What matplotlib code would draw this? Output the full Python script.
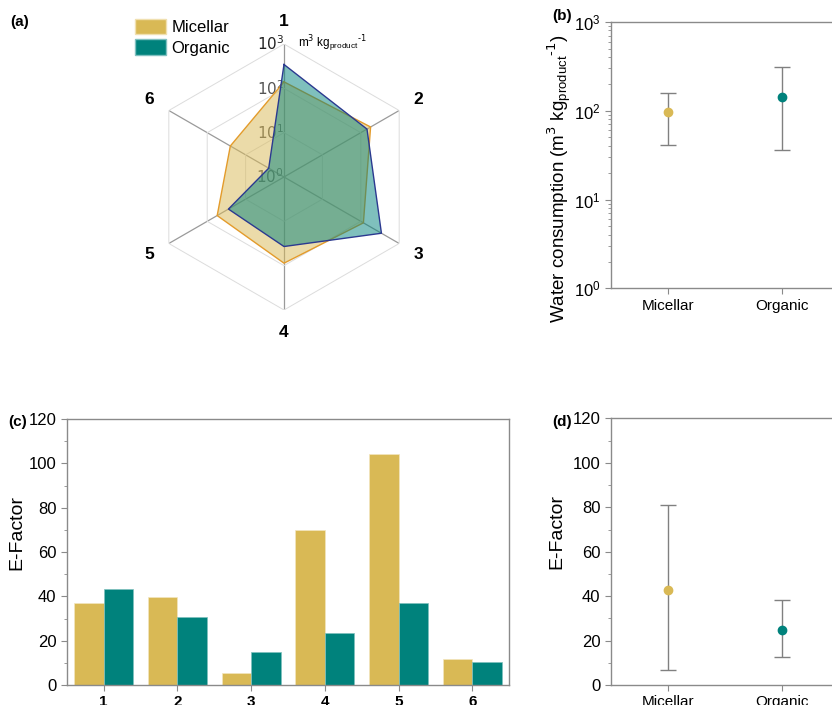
import numpy as np
import matplotlib
matplotlib.use("Agg")
import matplotlib.pyplot as plt
from matplotlib.patches import Patch
from matplotlib.ticker import MultipleLocator, LogLocator, NullFormatter

plt.rcParams['font.family'] = ['Liberation Sans', 'DejaVu Sans']

# data
axes_lbl = ["1", "2", "3", "4", "5", "6"]
water_mic = [140, 180, 117, 88, 55, 25]
water_org = [345, 145, 345, 37, 28, 2.5]

groups = ["Micellar", "Organic"]
water_mean = [97, 144]
water_lo = [41, 36.5]
water_hi = [158, 310]

ef_mic = [37.1, 39.7, 5.6, 69.9, 104.1, 11.6]
ef_org = [43.2, 30.7, 15.0, 23.3, 36.8, 10.2]

ef_mean = [42.6, 24.6]
ef_lo = [6.6, 12.8]
ef_hi = [81.2, 38.4]

c_mic = "#D9B955"
c_org = "#00827C"
spine_c = "#8a8a8a"
unit = "m$^3$ kg$_{\\mathregular{product}}$$^{\\text{-1}}$"

fig = plt.figure(figsize=(8.32, 7.05), dpi=100)

# ---- (a) radar
ax = fig.add_axes([0.1815, 0.5603, 0.3197, 0.3773], projection="polar")
ang = np.arange(6) * 2 * np.pi / 6
ang_c = np.append(ang, ang[0])
ax.set_theta_zero_location("N")
ax.set_theta_direction(-1)
ax.set_ylim(0, 3)
ax.spines["polar"].set_visible(False)
ax.set_xticks(ang)
ax.set_xticklabels([])
ax.set_yticks([])
ax.grid(False)
ax.patch.set_alpha(0)
for a in ang:
    ax.plot([a, a], [0, 3], color="#9a9a9a", lw=0.9, zorder=1)
for r in [1, 2, 3]:
    ax.plot(ang_c, [r] * 7, color="#dcdcdc", lw=0.7, zorder=1)
for k in range(4):
    ax.text(0, k, "$10^{%d}$" % k, ha="right", va="center", fontsize=11,
            color="#222222" if k == 3 else "#555555", zorder=2)
ax.annotate(unit, xy=(0, 3), xytext=(10, 0),
            textcoords="offset points", ha="left", va="center", fontsize=8.5)
rm = np.log10(water_mic)
ro = np.log10(water_org)
ax.fill(ang_c, np.append(rm, rm[0]), color=c_mic, alpha=0.5, lw=0, zorder=3)
ax.plot(ang_c, np.append(rm, rm[0]), color="#E39B2B", lw=1.0, zorder=3)
ax.fill(ang_c, np.append(ro, ro[0]), color=c_org, alpha=0.5, lw=0, zorder=4)
ax.plot(ang_c, np.append(ro, ro[0]), color="#2B3990", lw=1.0, zorder=4)
for a, t in zip(ang, axes_lbl):
    ax.text(a, 3.5, t, ha="center", va="center", fontsize=12.5, fontweight="bold")

fig.legend(handles=[Patch(facecolor=c_mic, edgecolor="#f0e0b0", label="Micellar"),
                    Patch(facecolor=c_org, edgecolor="#80c0c0", label="Organic")],
           loc="upper left", bbox_to_anchor=(0.148, 0.99), frameon=False,
           fontsize=12, handlelength=1.9, handleheight=1.05, handletextpad=0.3,
           labelspacing=0.25, borderpad=0.2)

def style(ax):
    for s in ["left", "bottom", "top", "right"]:
        ax.spines[s].set_color(spine_c)
        ax.spines[s].set_linewidth(1.0)
    ax.tick_params(which="both", direction="out", color=spine_c, labelsize=11)
    ax.tick_params(which="major", length=4)
    ax.tick_params(which="minor", length=2)

# ---- (b) water consumption
axb = fig.add_axes([0.734, 0.591, 0.2745, 0.378])
x = np.arange(1, 3)
for i in range(2):
    axb.errorbar(x[i], water_mean[i],
                 yerr=[[water_mean[i] - water_lo[i]], [water_hi[i] - water_mean[i]]],
                 fmt="o", color=[c_mic, c_org][i], ms=6, ecolor="#808080",
                 elinewidth=1.0, capsize=6, capthick=1.0)
axb.set_yscale("log")
axb.set_ylim(1, 1000)
axb.set_xlim(0.5, 2.5)
axb.set_xticks(x)
axb.set_xticklabels(groups)
axb.yaxis.set_minor_locator(LogLocator(subs=np.arange(2, 10)))
axb.yaxis.set_minor_formatter(NullFormatter())
axb.set_ylabel("Water consumption (" + unit + ")", fontsize=13.5)
axb.yaxis.set_label_coords(-0.16, 0.41)
style(axb)
axb.tick_params(axis="y", labelsize=12)
axb.spines["right"].set_visible(False)

# ---- (c) E-factor bars
axc = fig.add_axes([0.0802, 0.0284, 0.532, 0.377])
xc = np.arange(1, 7)
axc.bar(xc - 0.2, ef_mic, width=0.4, color=c_mic, edgecolor="#f3e6bf", lw=0.5)
axc.bar(xc + 0.2, ef_org, width=0.4, color=c_org, edgecolor="#7fc0bd", lw=0.5)
axc.set_xlim(0.5, 6.5)
axc.set_ylim(0, 120)
axc.set_xticks(xc)
axc.set_xticklabels(axes_lbl, fontweight="bold", fontsize=12.5)
axc.yaxis.set_major_locator(MultipleLocator(20))
axc.yaxis.set_minor_locator(MultipleLocator(10))
axc.set_ylabel("E-Factor", fontsize=14)
axc.yaxis.set_label_coords(-0.094, 0.575)
style(axc)
axc.tick_params(axis="y", labelsize=12)

# ---- (d) E-factor summary
axd = fig.add_axes([0.7344, 0.0284, 0.2745, 0.378])
for i in range(2):
    axd.errorbar(x[i], ef_mean[i],
                 yerr=[[ef_mean[i] - ef_lo[i]], [ef_hi[i] - ef_mean[i]]],
                 fmt="o", color=[c_mic, c_org][i], ms=6, ecolor="#808080",
                 elinewidth=1.0, capsize=6, capthick=1.0)
axd.set_xlim(0.5, 2.5)
axd.set_ylim(0, 120)
axd.set_xticks(x)
axd.set_xticklabels(groups, fontsize=12)
axd.yaxis.set_major_locator(MultipleLocator(20))
axd.yaxis.set_minor_locator(MultipleLocator(10))
axd.set_ylabel("E-Factor", fontsize=14)
axd.yaxis.set_label_coords(-0.20, 0.575)
style(axd)
axd.tick_params(axis="y", labelsize=12)
axd.spines["right"].set_visible(False)

for t, (px, py) in zip(["(a)", "(b)", "(c)", "(d)"],
                       [(10, 22), (552, 16), (8, 422), (552, 422)]):
    fig.text(px / 832, 1 - py / 705, t, fontsize=11, fontweight="bold",
             ha="left", va="center")

fig.savefig("out.png", dpi=100)
